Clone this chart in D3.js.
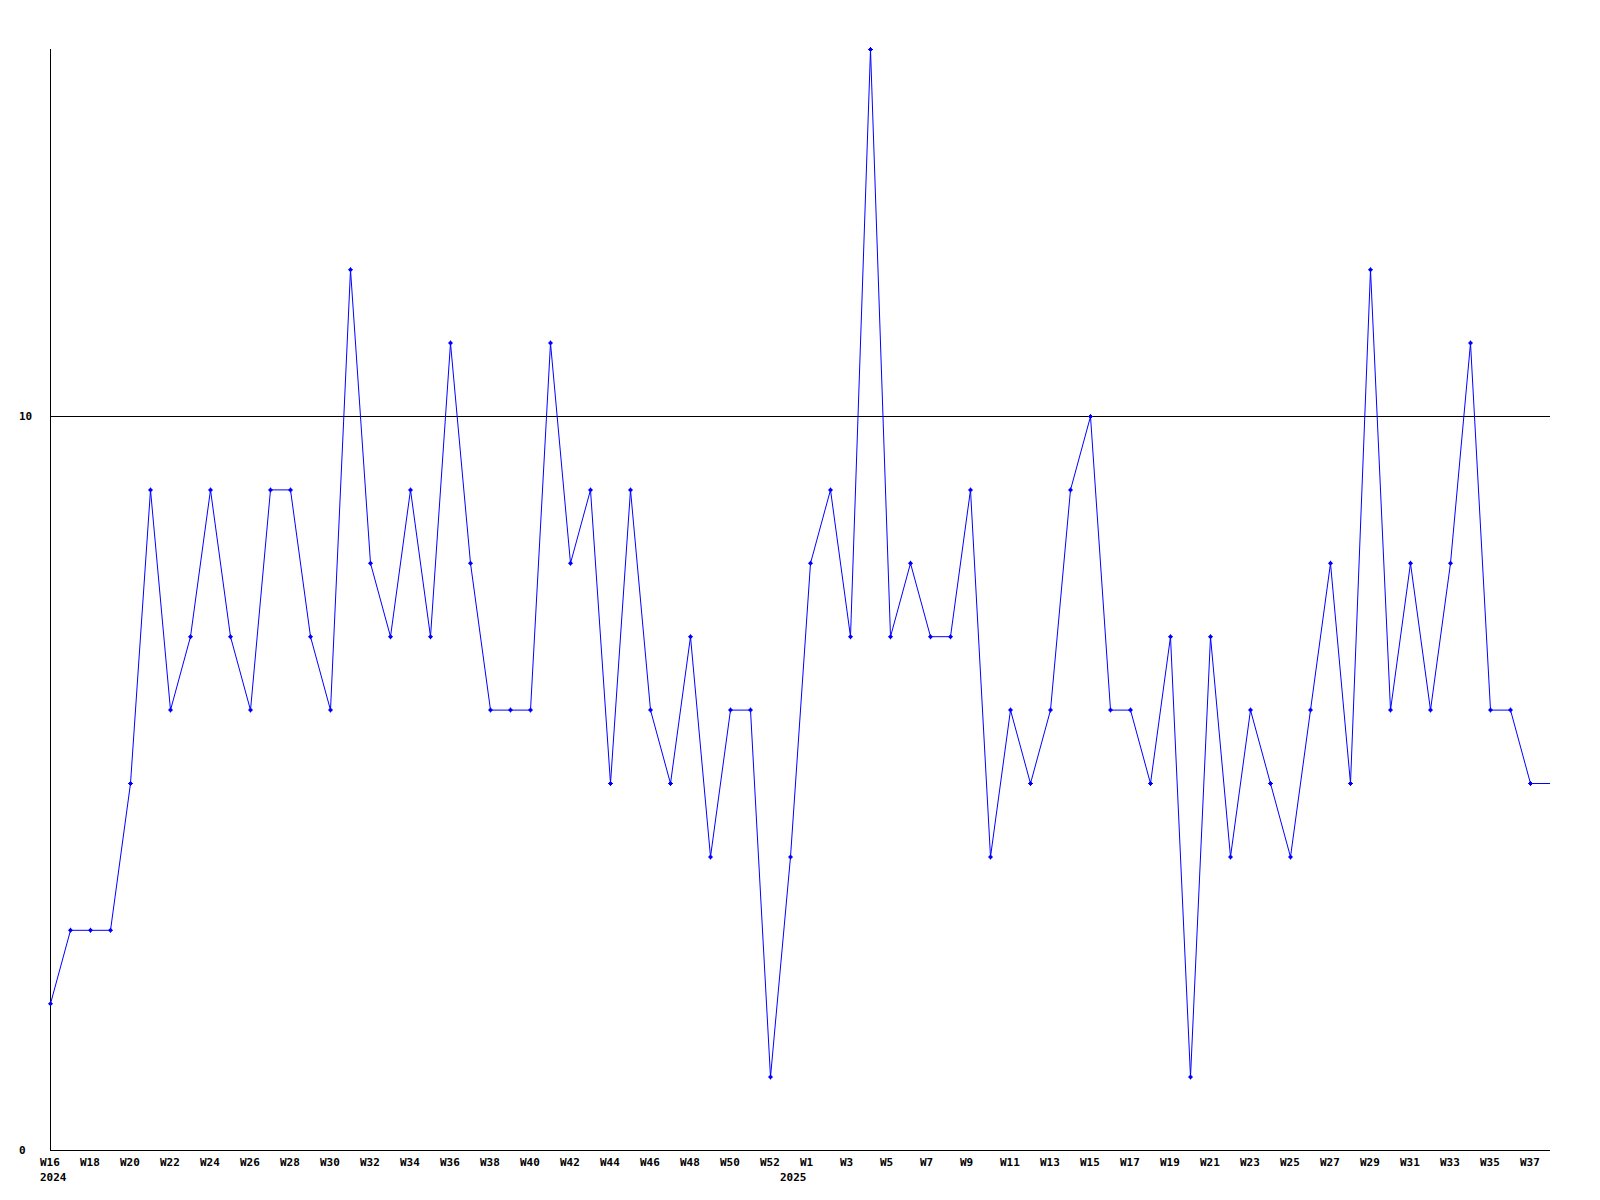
<!DOCTYPE html>
<html>
<head>
<meta charset="utf-8">
<script src="https://cdn.jsdelivr.net/npm/d3@7"></script>
<style>
html, body { margin: 0; padding: 0; background: #fff; }
svg text { font-family: "DejaVu Sans Mono", monospace; font-size: 11px; font-weight: bold; fill: #000; }
</style>
</head>
<body>
<svg id="chart" width="1600" height="1200"></svg>
<script>
// Week labels (2024 W16 .. W53, then 2025 W1 .. W37)
const weeks = [
  "W16","W17","W18","W19","W20","W21","W22","W23","W24","W25","W26","W27","W28","W29","W30","W31","W32","W33","W34","W35",
  "W36","W37","W38","W39","W40","W41","W42","W43","W44","W45","W46","W47","W48","W49","W50","W51","W52","W53",
  "W1","W2","W3","W4","W5","W6","W7","W8","W9","W10","W11","W12","W13","W14","W15","W16","W17","W18","W19","W20",
  "W21","W22","W23","W24","W25","W26","W27","W28","W29","W30","W31","W32","W33","W34","W35","W36","W37"
];
const values = [
  2,3,3,3,5,9,6,7,9,7,6,9,9,7,6,12,8,7,9,7,
  11,8,6,6,6,11,8,9,5,9,6,5,7,4,6,6,1,4,
  8,9,7,15,7,8,7,7,9,4,6,5,6,9,10,6,6,5,7,1,
  7,4,6,5,4,6,8,5,12,6,8,6,8,11,6,6,5
];
const yearLabels = ["2024", "2025"];
const yearStartIndex = [0, 37];
const yTickValues = [0, 10];
const gridValues = [10];

const svg = d3.select("#chart");
const x = d3.scaleLinear().domain([0, values.length]).range([50, 1550]);
const y = d3.scaleLinear().domain([0, 15]).range([1150, 49]);

// gridline at 10
svg.selectAll("line.grid").data(gridValues).enter().append("line")
  .attr("x1", x(0)).attr("x2", x(values.length))
  .attr("y1", d => y(d) + 0.5).attr("y2", d => y(d) + 0.5)
  .attr("stroke", "#000").attr("stroke-width", 1);

// axes
svg.append("line").attr("x1", x(0) + 0.5).attr("x2", x(0) + 0.5)
  .attr("y1", y(15)).attr("y2", y(0) + 0.5).attr("stroke", "#000").attr("stroke-width", 1);
svg.append("line").attr("x1", x(0)).attr("x2", x(values.length))
  .attr("y1", y(0) + 0.5).attr("y2", y(0) + 0.5).attr("stroke", "#000").attr("stroke-width", 1);

// y labels
svg.selectAll("text.ylab").data(yTickValues).enter().append("text")
  .attr("x", 19).attr("y", d => y(d) + 4)
  .attr("text-anchor", "start").text(d => d);

// x labels (every other week)
svg.selectAll("text.xlab").data(weeks.map((w, i) => ({w, i})).filter(d => d.i % 2 === 0))
  .enter().append("text")
  .attr("x", d => x(d.i) - 10).attr("y", 1166)
  .attr("text-anchor", "start").text(d => d.w);

// year labels
svg.selectAll("text.year").data(yearLabels).enter().append("text")
  .attr("x", (d, k) => x(yearStartIndex[k]) - 10).attr("y", 1181)
  .attr("text-anchor", "start").text(d => d);

// line (continues flat to the end of the axis)
const linePts = values.map((v, i) => [x(i) + 0.5, y(v) + 0.5]);
linePts.push([x(values.length), y(values[values.length - 1]) + 0.5]);
svg.append("path").attr("d", d3.line()(linePts))
  .attr("fill", "none").attr("stroke", "#0000ff").attr("stroke-width", 1);

// markers
svg.selectAll("path.mk").data(values).enter().append("path")
  .attr("transform", (v, i) => `translate(${x(i) + 0.5},${y(v) + 0.5})`)
  .attr("d", "M-2.5,-0.5H-0.5V-2.5H0.5V-0.5H2.5V0.5H0.5V2.5H-0.5V0.5H-2.5Z M-1.5,-1.5H1.5V1.5H-1.5Z")
  .attr("fill", "#0000ff");
</script>
</body>
</html>
